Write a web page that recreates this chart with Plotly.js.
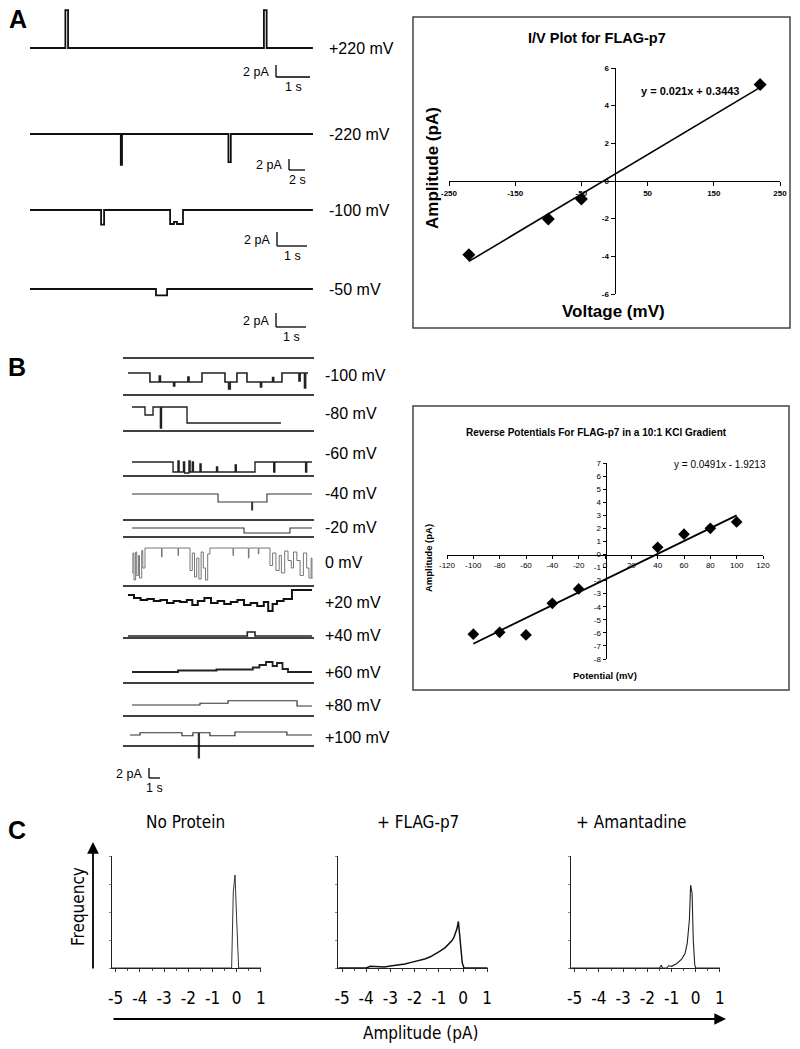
<!DOCTYPE html>
<html><head><meta charset="utf-8">
<script src="https://cdn.plot.ly/plotly-3.0.1.min.js"></script>
<style>html,body{margin:0;padding:0;background:#fff;}#chart{width:800px;height:1049px;}</style>
</head><body><div id="chart"></div>
<script>
// ================= DATA =================
// Panel A traces: time (s) and current (pA, relative to closed level)
const A_labels = ['+220 mV', '-220 mV', '-100 mV', '-50 mV'];
const A_p220_t = [0, 1.04, 1.12, 6.88, 6.96, 8.32];
const A_p220_i = [0, 6.3, 0, 6.3, 0, 0];
const A_m220_t = [0, 11.35, 11.5, 24.8, 25.1, 35.4];
const A_m220_i = [0, -5.6, 0, -5.1, 0, 0];
const A_m100_t = [0, 2.37, 2.47, 4.67, 4.8, 4.9, 5.1, 9.43];
const A_m100_i = [0, -2.1, 0, -2.0, -1.7, -2.0, 0, 0];
const A_m50_t = [0, 4.2, 4.57, 9.43];
const A_m50_i = [0, -0.9, 0, 0];
const A_scale_pA = [2, 2, 2, 2];
const A_scale_s = [1, 2, 1, 1];

// I/V plot
const IV_voltage = [-220, -100, -50, 220];
const IV_amp = [-3.92, -2.02, -0.96, 5.12];
const IV_fit_x = [-220, 220];
const IV_fit_y = [-4.27, 4.97];
const IV_xticks = [-250, -150, -50, 50, 150, 250];
const IV_yticks = [-6, -4, -2, 0, 2, 4, 6];

// Panel B traces
const B_labels = ['-100 mV', '-80 mV', '-60 mV', '-40 mV', '-20 mV', '0 mV', '+20 mV', '+40 mV', '+60 mV', '+80 mV', '+100 mV'];
const B_m100_t = [0.45, 2.45, 3.3, 3.4, 4.6, 4.7, 5.9, 6.0, 7.18, 9.27, 9.6, 9.75, 10.36, 11.27, 12.5, 12.6, 13.6, 13.7, 14.45, 16.0, 16.1, 16.5, 16.6, 16.82];
const B_m100_i = [0, -1.8, -0.6, -1.8, -2.6, -1.8, -0.8, -1.8, 0, -1.8, -3.2, -1.8, 0, -1.8, -2.8, -1.8, -0.9, -1.8, 0, -1.6, 0, -3.0, 0, 0];
const B_m80_t = [0.82, 2.0, 2.73, 3.4, 3.5, 5.82, 14.36];
const B_m80_i = [0, -1.6, 0, -4.2, 0, -3.2, -3.2];
const B_m60_t = [0.82, 4.55, 5.0, 5.1, 5.5, 5.6, 6.0, 6.1, 6.3, 6.4, 7.0, 7.1, 8.5, 8.6, 10.2, 10.3, 12.0, 13.7, 13.8, 16.6, 16.7, 17.18];
const B_m60_i = [0, -2.0, 0.2, -2.0, 0, -2.2, 0.2, -2.0, 0, -2.0, -0.4, -2.0, -1.0, -2.0, -0.6, -2.0, 0, -2.0, 0, -2.0, 0, 0];
const B_m40_t = [0.82, 8.64, 11.7, 11.78, 13.09, 17.18];
const B_m40_i = [0, -1.6, -3.2, -1.6, 0, 0];
const B_m20_t = [0.82, 11.0, 15.18, 17.18];
const B_m20_i = [0, -1.0, 0, 0];
const B_0_t = [0.82, 0.9, 1.0, 1.15, 1.25, 1.4, 1.5, 1.7, 1.8, 2.0, 3.5, 3.55, 5.0, 5.05, 6.09, 6.3, 6.5, 6.7, 6.9, 7.1, 7.3, 7.5, 7.7, 7.9, 10.0, 10.05, 11.4, 11.45, 12.3, 12.35, 13.36, 13.6, 13.9, 14.2, 14.4, 14.7, 15.0, 15.3, 15.5, 15.8, 16.1, 16.4, 16.7, 16.9, 17.1, 17.18];
const B_0_i = [-5.0, -1.0, -6.4, -0.8, -5.5, -1.5, -6.0, -0.5, -4.0, 0, -1.8, 0, -1.5, 0, -4.5, -1.0, -5.8, -2.0, -6.2, -0.8, -4.0, -6.4, -1.2, 0, -1.5, 0, -2.0, 0, -1.2, 0, -3.5, -1.0, -4.5, -1.5, -5.0, -0.6, -2.5, -4.0, -0.8, -2.5, -5.5, -1.0, -4.0, -6.0, -2.0, -6.2];
const B_p20_t = [0.45, 1.0, 1.6, 2.2, 2.8, 3.4, 4.0, 4.6, 5.2, 5.8, 6.3, 6.8, 7.4, 8.0, 8.6, 9.2, 9.8, 10.4, 11.0, 11.6, 12.2, 12.8, 13.2, 13.6, 14.0, 14.6, 15.36, 17.18];
const B_p20_i = [-1.0, -1.6, -2.0, -1.8, -2.2, -2.0, -2.6, -2.2, -2.4, -2.0, -3.0, -2.2, -1.6, -2.6, -2.2, -2.8, -2.4, -2.0, -3.0, -2.6, -3.2, -2.4, -4.2, -2.8, -2.2, -1.8, 0, 0];
const B_p40_t = [0.45, 11.3, 12.0, 17.18];
const B_p40_i = [0, 0.8, 0, 0];
const B_p60_t = [0.82, 5.0, 8.5, 11.8, 12.4, 13.0, 13.6, 14.0, 14.5, 15.0, 17.18];
const B_p60_i = [0, 0.3, 0.5, 0.9, 1.4, 2.0, 1.2, 1.8, 0.6, 0, 0];
const B_p80_t = [0.82, 7.0, 9.55, 15.82, 17.18];
const B_p80_i = [0, 0.35, 0.85, -0.2, -0.2];
const B_p100_t = [0.64, 1.55, 5.36, 6.36, 6.85, 6.95, 7.9, 10.18, 14.9, 17.18];
const B_p100_i = [0, 0.45, -0.15, 0.45, -4.6, 0.45, -0.15, 0.6, 0, 0];

// Reverse potential plot
const RP_potential = [-100, -80, -60, -40, -20, 40, 60, 80, 100];
const RP_amp = [-6.1, -5.96, -6.16, -3.74, -2.64, 0.55, 1.55, 2.0, 2.49];
const RP_fit_x = [-100, 100];
const RP_fit_y = [-6.83, 2.99];
const RP_xticks = [-120, -100, -80, -60, -40, -20, 0, 20, 40, 60, 80, 100, 120];
const RP_yticks = [-8, -7, -6, -5, -4, -3, -2, -1, 0, 1, 2, 3, 4, 5, 6, 7];

// Panel C amplitude histograms (amplitude pA, relative frequency)
const C_titles = ['No Protein', '+ FLAG-p7', '+ Amantadine'];
const C_none_x = [-5.15, -0.21, -0.14, -0.07, 0.0, 0.08, 1.02];
const C_none_y = [0, 0, 0.68, 0.83, 0.43, 0, 0];
const C_flag_x = [-5.15, -4.0, -3.83, -3.5, -3.25, -3.0, -2.7, -2.4, -2.14, -1.85, -1.58, -1.35, -1.17, -0.95, -0.75, -0.6, -0.47, -0.38, -0.31, -0.25, -0.19, -0.1, -0.03, 0.04, 1.02];
const C_flag_y = [0, 0, 0.015, 0.012, 0.01, 0.018, 0.024, 0.035, 0.05, 0.065, 0.08, 0.1, 0.12, 0.15, 0.18, 0.21, 0.24, 0.27, 0.31, 0.35, 0.415, 0.22, 0.045, 0, 0];
const C_aman_x = [-5.15, -1.5, -1.42, -1.38, -1.2, -1.12, -0.99, -0.78, -0.58, -0.44, -0.35, -0.26, -0.21, -0.15, -0.1, -0.04, 0.0, 1.02];
const C_aman_y = [0, 0, 0.025, 0, 0, 0.02, 0.015, 0.04, 0.08, 0.13, 0.22, 0.43, 0.74, 0.67, 0.25, 0.03, 0, 0];
const C_xticks = [-5, -4, -3, -2, -1, 0, 1];

// ================= BUILD =================
const W = 800, H = 1049;
const fx = p => p / W;
const fy = p => Math.min(1, Math.max(0, 1 - p / H));
const F = 'Liberation Sans, Arial, Helvetica, sans-serif';
const FN = 'Liberation Sans Narrow, Arial Narrow, DejaVu Sans Condensed, Liberation Sans, sans-serif';

const layout = {
  width: W, height: H, margin: {l: 0, r: 0, t: 0, b: 0},
  paper_bgcolor: '#ffffff', plot_bgcolor: 'rgba(0,0,0,0)', showlegend: false,
  shapes: [], annotations: [], font: {family: F, color: '#000'}
};
const data = [];
let nAx = 0;
function newAxes(xdom, ydom, xr, yr, xo, yo) {
  nAx++;
  const sfx = nAx === 1 ? '' : String(nAx);
  const base = {visible: false, fixedrange: true, showgrid: false, zeroline: false};
  layout['xaxis' + sfx] = Object.assign({}, base, {domain: [fx(xdom[0]), fx(xdom[1])], range: xr, anchor: 'y' + sfx}, xo || {});
  layout['yaxis' + sfx] = Object.assign({}, base, {domain: [fy(ydom[1]), fy(ydom[0])], range: yr, anchor: 'x' + sfx}, yo || {});
  return {x: 'x' + sfx, y: 'y' + sfx};
}
function txt(text, x, y, size, opts) {
  layout.annotations.push(Object.assign({
    text: text, x: fx(x), y: fy(y), xref: 'paper', yref: 'paper', showarrow: false,
    xanchor: 'center', yanchor: 'middle', font: {size: size, family: F, color: '#000'}
  }, opts || {}));
}
function traceRow(t, i, o) {
  const T = (o.x1 - o.x0) / o.pxPerS;
  const h = o.half;
  const ax = newAxes([o.x0, o.x1], [o.base - h, o.base + h], [0, T], [-h / o.pxPerPA, h / o.pxPerPA]);
  data.push({type: 'scatter', mode: 'lines', x: t, y: i, xaxis: ax.x, yaxis: ax.y,
    line: {shape: 'hv', color: o.color || '#111', width: o.width || 1.5}, hoverinfo: 'skip'});
  return ax;
}
function scaleBar(ax, o, xPx, bottomPx, pA, sec, fsize) {
  const t0 = (xPx - o.x0) / o.pxPerS;
  const i0 = -(bottomPx - o.base) / o.pxPerPA;
  layout.shapes.push({type: 'line', xref: ax.x, yref: ax.y, x0: t0, x1: t0, y0: i0, y1: i0 + pA, line: {color: '#000', width: 1.3}});
  layout.shapes.push({type: 'line', xref: ax.x, yref: ax.y, x0: t0, x1: t0 + sec, y0: i0, y1: i0, line: {color: '#000', width: 1.3}});
  layout.annotations.push({text: pA + ' pA', xref: ax.x, yref: ax.y, x: t0, y: i0 + pA * 0.45, xanchor: 'right', yanchor: 'middle', xshift: -5, showarrow: false, font: {size: fsize, family: F}});
  layout.annotations.push({text: sec + ' s', xref: ax.x, yref: ax.y, x: t0 + sec / 2, y: i0, xanchor: 'center', yanchor: 'top', yshift: -1, showarrow: false, font: {size: fsize, family: F}});
}

// ---------- Panel A traces ----------
txt('<b>A</b>', 18, 19, 25);
const A_rows = [
  {t: A_p220_t, i: A_p220_i, o: {x0: 30, x1: 313, pxPerS: 34, base: 48, pxPerPA: 6, half: 45}, bar: [276, 77]},
  {t: A_m220_t, i: A_m220_i, o: {x0: 30, x1: 313, pxPerS: 8, base: 134, pxPerPA: 5.5, half: 45}, bar: [289, 170]},
  {t: A_m100_t, i: A_m100_i, o: {x0: 30, x1: 313, pxPerS: 30, base: 210, pxPerPA: 7, half: 45}, bar: [277, 246]},
  {t: A_m50_t, i: A_m50_i, o: {x0: 30, x1: 313, pxPerS: 30, base: 289, pxPerPA: 7, half: 45}, bar: [276, 327]}
];
A_rows.forEach((r, k) => {
  const ax = traceRow(r.t, r.i, Object.assign({width: 1.8}, r.o));
  scaleBar(ax, r.o, r.bar[0], r.bar[1], A_scale_pA[k], A_scale_s[k], 12.5);
  txt(A_labels[k], 327, r.o.base, 16, {xanchor: 'left'});
});

// ---------- I/V plot ----------
layout.shapes.push({type: 'rect', xref: 'paper', yref: 'paper', x0: fx(413), x1: fx(790), y0: fy(328), y1: fy(17), line: {color: '#444', width: 1.5}});
txt('<b>I/V Plot for FLAG-p7</b>', 597, 38, 14.5);
txt('<b>Amplitude (pA)</b>', 432, 168, 17, {textangle: -90});
txt('<b>Voltage (mV)</b>', 613, 312, 17);
txt('<b>y = 0.021x + 0.3443</b>', 690, 91, 11);
const ivTickFont = {size: 8, family: F, color: '#000', weight: 'bold'};
const ivAx = newAxes([449, 780], [68, 294], [-250, 250], [-6, 6],
  {visible: true, anchor: 'free', position: fy(181), showline: true, linecolor: '#000', linewidth: 1,
   ticks: 'outside', ticklen: 4, tickcolor: '#000', tickmode: 'array', tickvals: IV_xticks, ticktext: IV_xticks.map(String), tickfont: ivTickFont},
  {visible: true, anchor: 'free', position: fx(614.5), showline: true, linecolor: '#000', linewidth: 1,
   ticks: 'outside', ticklen: 4, tickcolor: '#000', tickmode: 'array', tickvals: IV_yticks, ticktext: IV_yticks.map(String), tickfont: ivTickFont});
data.push({type: 'scatter', mode: 'lines', x: IV_fit_x, y: IV_fit_y, xaxis: ivAx.x, yaxis: ivAx.y, line: {color: '#000', width: 1.6}, hoverinfo: 'skip'});
data.push({type: 'scatter', mode: 'markers', x: IV_voltage, y: IV_amp, xaxis: ivAx.x, yaxis: ivAx.y, marker: {symbol: 'diamond', size: 10, color: '#000'}, hoverinfo: 'skip'});

// ---------- Panel B traces ----------
txt('<b>B</b>', 17, 367, 25);
const B_sets = [
  [B_m100_t, B_m100_i, 373, '#222', 1.6],
  [B_m80_t, B_m80_i, 407, '#222', 1.4],
  [B_m60_t, B_m60_i, 462, '#222', 1.4],
  [B_m40_t, B_m40_i, 494, '#333', 1.1],
  [B_m20_t, B_m20_i, 528, '#333', 1.1],
  [B_0_t, B_0_i, 548, '#777', 1.0],
  [B_p20_t, B_p20_i, 590, '#111', 2.0],
  [B_p40_t, B_p40_i, 636, '#222', 1.6],
  [B_p60_t, B_p60_i, 672, '#222', 1.8],
  [B_p80_t, B_p80_i, 705, '#333', 1.2],
  [B_p100_t, B_p100_i, 735, '#333', 1.2]
];
const B_labelY = [375, 413, 453, 494, 527, 562, 602, 635, 672, 705, 737];
const B_sepY = [358, 395, 431, 476, 520, 537, 586, 638, 683, 716, 746];
let lastBAx = null, lastBO = null;
B_sets.forEach((s, k) => {
  const o = {x0: 123, x1: 314, pxPerS: 11, base: s[2], pxPerPA: 5, half: 45, color: s[3], width: s[4]};
  lastBAx = traceRow(s[0], s[1], o);
  lastBO = o;
  txt(B_labels[k], 323, B_labelY[k], 16, {xanchor: 'left'});
});
B_sepY.forEach(y => layout.shapes.push({type: 'line', xref: 'paper', yref: 'paper', x0: fx(123), x1: fx(314), y0: fy(y), y1: fy(y), line: {color: '#000', width: 1.5}}));
scaleBar(lastBAx, lastBO, 149, 778, 2, 1, 12.5);

// ---------- Reverse potential plot ----------
layout.shapes.push({type: 'rect', xref: 'paper', yref: 'paper', x0: fx(413), x1: fx(789), y0: fy(690), y1: fy(406), line: {color: '#444', width: 1.5}});
txt('<b>Reverse Potentials For FLAG-p7 in a 10:1 KCl Gradient</b>', 596, 432, 10);
txt('<b>Amplitude (pA)</b>', 428, 558, 9.5, {textangle: -90});
txt('<b>Potential (mV)</b>', 605, 675, 9.5);
txt('y = 0.0491x - 1.9213', 720, 464, 10);
const rpTickFont = {size: 8, family: F, color: '#000'};
const rpAx = newAxes([447, 763], [463, 659], [-120, 120], [-8, 7],
  {visible: true, anchor: 'free', position: fy(554.5), showline: true, linecolor: '#000', linewidth: 1,
   ticks: 'outside', ticklen: 3, tickcolor: '#000', tickmode: 'array', tickvals: RP_xticks, ticktext: RP_xticks.map(String), tickfont: rpTickFont},
  {visible: true, anchor: 'free', position: fx(605.5), showline: true, linecolor: '#000', linewidth: 1,
   ticks: 'outside', ticklen: 3, tickcolor: '#000', tickmode: 'array', tickvals: RP_yticks, ticktext: RP_yticks.map(String), tickfont: rpTickFont});
data.push({type: 'scatter', mode: 'lines', x: RP_fit_x, y: RP_fit_y, xaxis: rpAx.x, yaxis: rpAx.y, line: {color: '#000', width: 1.8}, hoverinfo: 'skip'});
data.push({type: 'scatter', mode: 'markers', x: RP_potential, y: RP_amp, xaxis: rpAx.x, yaxis: rpAx.y, marker: {symbol: 'diamond', size: 9, color: '#000'}, hoverinfo: 'skip'});

// ---------- Panel C histograms ----------
txt('<b>C</b>', 17, 830, 25);
const C_sets = [[C_none_x, C_none_y, 236.7, '#333', 1.0], [C_flag_x, C_flag_y, 463, '#111', 1.5], [C_aman_x, C_aman_y, 695.7, '#222', 1.1]];
const C_titleX = [185, 418, 631];
const pxPerUnit = 24.2;
C_sets.forEach((s, k) => {
  const zero = s[2];
  const ax = newAxes([zero - 5.15 * pxPerUnit, zero + 1.02 * pxPerUnit], [856, 968], [-5.15, 1.02], [0, 1],
    {visible: true, showline: true, linecolor: '#222', linewidth: 1, ticks: 'outside', ticklen: 3, tickcolor: '#333',
     tickmode: 'array', tickvals: C_xticks, ticktext: C_xticks.map(String), tickfont: {size: 17, family: FN, color: '#000'},
     ticklabelstandoff: 12, minor: {ticks: 'outside', ticklen: 2, tickcolor: '#555', dtick: 0.5}},
    {visible: true, showline: true, linecolor: '#222', linewidth: 1, ticks: 'outside', ticklen: 2, tickcolor: '#888', dtick: 0.25, showticklabels: false});
  data.push({type: 'scatter', mode: 'lines', x: s[0], y: s[1], xaxis: ax.x, yaxis: ax.y, line: {color: s[3], width: s[4]}, hoverinfo: 'skip'});
  txt(C_titles[k], C_titleX[k], 822, 17, {font: {size: 17, family: FN, color: '#000'}});
});
// axis arrows
layout.annotations.push({text: '', x: fx(93), y: fy(842), xref: 'paper', yref: 'paper', showarrow: true, ax: 0, ay: 128, arrowhead: 2, arrowsize: 1.3, arrowwidth: 1.8, arrowcolor: '#000'});
layout.annotations.push({text: '', x: fx(726), y: fy(1019), xref: 'paper', yref: 'paper', showarrow: true, ax: -614, ay: 0, arrowhead: 2, arrowsize: 1.3, arrowwidth: 1.8, arrowcolor: '#000'});
txt('Frequency', 78, 907, 17, {textangle: -90, font: {size: 17, family: FN, color: '#000'}});
txt('Amplitude (pA)', 420, 1033, 17, {font: {size: 17, family: FN, color: '#000'}});

Plotly.newPlot('chart', data, layout, {staticPlot: true, displayModeBar: false});
</script>
</body></html>
